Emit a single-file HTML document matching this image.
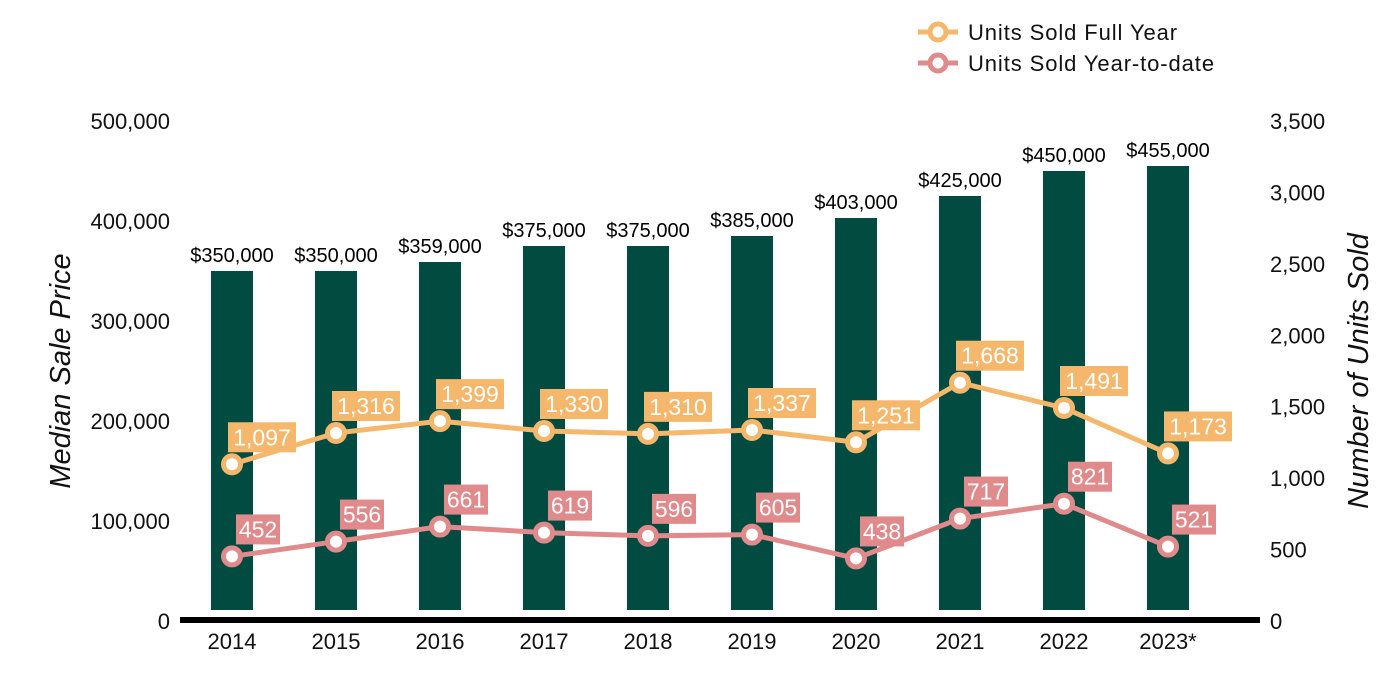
<!DOCTYPE html>
<html><head><meta charset="utf-8"><style>
body{margin:0;background:#fff;}
svg{display:block;font-family:"Liberation Sans",Arial,sans-serif;}
</style></head><body>
<svg id="chart" width="1400" height="700" xmlns="http://www.w3.org/2000/svg">
<g id="legend">
  <g>
    <line x1="918" y1="32" x2="958" y2="32" stroke="#f5b76c" stroke-width="5"/>
    <circle cx="938" cy="32" r="8" fill="#fff" stroke="#f5b76c" stroke-width="5"/>
    <text x="968" y="40" font-size="22" letter-spacing="0.9" fill="#111">Units Sold Full Year</text>
  </g>
  <g>
    <line x1="918" y1="63" x2="958" y2="63" stroke="#e08a8c" stroke-width="5"/>
    <circle cx="938" cy="63" r="8" fill="#fff" stroke="#e08a8c" stroke-width="5"/>
    <text x="968" y="71" font-size="22" letter-spacing="0.9" fill="#111">Units Sold Year-to-date</text>
  </g>
</g>
<text transform="translate(70,371) rotate(-90)" text-anchor="middle" font-size="29" font-style="italic" fill="#111">Median Sale Price</text>
<text transform="translate(1368,371) rotate(-90)" text-anchor="middle" font-size="29" font-style="italic" fill="#111">Number of Units Sold</text>
<g id="plot"></g>
</svg>
<script>
const categories=["2014","2015","2016","2017","2018","2019","2020","2021","2022","2023*"];
const prices=[350000,350000,359000,375000,375000,385000,403000,425000,450000,455000];
const fullYear=[1097,1316,1399,1330,1310,1337,1251,1668,1491,1173];
const ytd=[452,556,661,619,596,605,438,717,821,521];
const leftTicks=[0,100000,200000,300000,400000,500000];
const rightTicks=[0,500,1000,1500,2000,2500,3000,3500];

const NS="http://www.w3.org/2000/svg";
const g=document.getElementById('plot');
const baseY=621, topY=121;
const yL=v=>baseY-(v/500000)*(baseY-topY);
const yR=v=>baseY-(v/3500)*(baseY-topY);
const xC=i=>232+i*104;
const fmt=v=>v.toLocaleString('en-US');
function el(t,a,p){const e=document.createElementNS(NS,t);for(const k in a)e.setAttribute(k,a[k]);(p||g).appendChild(e);return e;}

leftTicks.forEach(v=>{
  const t=el('text',{x:170,y:yL(v)+8,'text-anchor':'end','font-size':22,fill:'#111'});
  t.textContent=fmt(v);
  
  
});
rightTicks.forEach(v=>{
  const t=el('text',{x:1270,y:yR(v)+8,'font-size':22,fill:'#111'});
  t.textContent=fmt(v);
  
  
});
categories.forEach((c,i)=>{
  const b=el('rect',{x:xC(i)-21,y:yL(prices[i]),width:42,height:610-yL(prices[i]),fill:'#024b41'});
  
  
  const t=el('text',{x:xC(i),y:yL(prices[i])-9,'text-anchor':'middle','font-size':20,fill:'#000'});
  t.textContent='$'+fmt(prices[i]);
  
  
  const xl=el('text',{x:xC(i),y:649,'text-anchor':'middle','font-size':22,fill:'#111'});
  xl.textContent=c;
  
  
});
const ax=el('line',{x1:180,y1:620,x2:1260,y2:620,stroke:'#000','stroke-width':6});



function series(vals,color,name){
  const pts=vals.map((v,i)=>xC(i)+','+yR(v)).join(' ');
  const l=el('polyline',{points:pts,fill:'none',stroke:color,'stroke-width':5,'stroke-linejoin':'round'});
  
  
  vals.forEach((v,i)=>{
    const c=el('circle',{cx:xC(i),cy:yR(v),r:8.5,fill:'#fff',stroke:color,'stroke-width':5});
    
    
    const s=fmt(v);
    const w=s.length*12+8;
    const cx=xC(i)+26+(s.length>3?4:0), cy=yR(v)-27;
    const r=el('rect',{x:cx-w/2,y:cy-15,width:w,height:30,fill:color});
    
    
    const t=el('text',{x:cx,y:cy+8,'text-anchor':'middle','font-size':23,fill:'#fff'});
    t.textContent=s;
    
    
  });
}
series(fullYear,'#f5b76c','full-year');
series(ytd,'#e08a8c','ytd');
</script>
</body></html>
